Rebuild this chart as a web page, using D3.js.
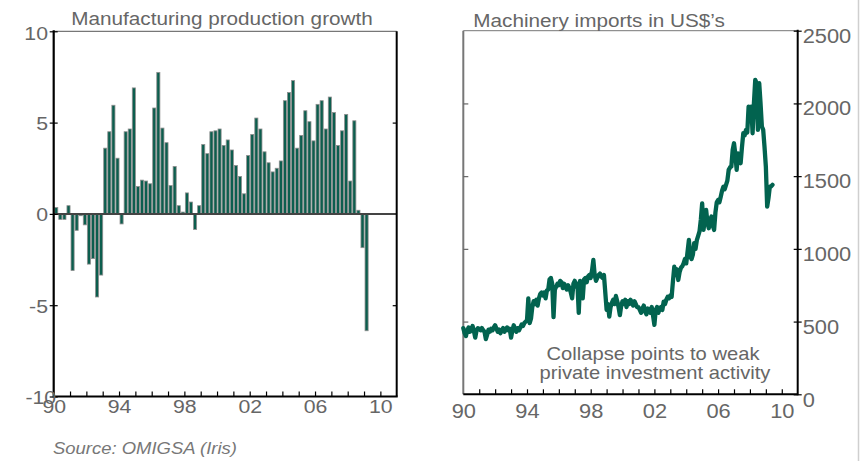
<!DOCTYPE html>
<html><head><meta charset="utf-8">
<script src="https://cdn.jsdelivr.net/npm/d3@7"></script>
<style>
body{margin:0;background:#fff}
svg{display:block}
text{font-family:"Liberation Sans",Arial,sans-serif;fill:#666}
</style>
</head><body>
<svg id="c" width="864" height="461"></svg>
<script>
// ---------- DATA ----------
const growthStart = 1990; // quarterly, % y/y
const growth = [
  0.35,-0.3,-0.3,0.45,   -3.1,-0.9,-0.1,-0.6,   -2.75,-2.45,-4.55,-3.35,
  3.6,4.5,5.95,3.05,     -0.55,4.5,4.65,6.9,    1.5,1.85,1.8,1.65,
  5.8,7.75,4.7,3.9,      1.55,2.6,0.45,0.1,     1.15,0.65,-0.85,0.45,
  3.8,3.3,4.5,4.55,      4.65,3.75,4.05,3.5,    2.65,2.05,1.1,3.2,
  4.35,5.25,4.65,3.4,    2.8,2.3,2.5,2.9,       6.2,6.65,7.3,3.6,
  4.3,5.65,5.05,4.0,     6.0,6.2,4.65,6.4,      5.55,3.75,4.55,5.45,
  1.8,5.1,0.2,-1.85,     -6.4
];
const importsStart = 1990; // monthly, US$ m
const imports = [
  455,420,400,440,460,430,445,470,435,390,440,455,          // 1990
  450,440,455,440,430,380,410,445,430,450,440,460,          // 1991
  475,450,430,445,420,440,455,430,445,460,440,450,          // 1992
  390,440,475,450,430,455,440,460,480,470,490,500,          // 1993
  510,660,490,520,600,640,620,650,610,660,690,700,          // 1994
  680,700,660,715,720,790,800,760,530,720,740,760,          // 1995
  750,780,770,730,760,740,720,750,730,700,660,760,          // 1996
  780,740,760,560,780,760,660,790,800,770,810,820,          // 1997
  800,850,924,820,780,800,820,830,810,800,820,700,          // 1998
  580,620,534,600,630,650,620,676,640,600,544,610,          // 1999
  640,620,650,600,640,620,650,630,610,640,620,600,          // 2000
  600,580,560,590,610,570,550,590,580,560,600,540,          // 2001
  477,580,600,560,590,600,580,637,620,650,670,660,          // 2002
  680,670,780,877,820,860,786,840,870,880,900,930,          // 2003
  900,980,1061,950,930,960,1040,1000,1060,1090,1120,1200,   // 2004
  1313,1130,1200,1268,1180,1142,1200,1222,1160,1130,1250,1320, // 2005
  1336,1320,1359,1400,1428,1410,1440,1470,1543,1560,1566,1680, // 2006
  1726,1650,1543,1657,1620,1589,1700,1795,1780,1818,1800,1978, // 2007
  1960,1978,1795,2000,2162,2140,1818,2139,2001,1841,1818,1700, // 2008
  1566,1290,1350,1428,1430,1440                               // 2009
];
const yearTicks = d3.range(1991, 2011);
const yearLabels = [1990, 1994, 1998, 2002, 2006, 2010];
const growthTicks = [-10, -5, 0, 5, 10];
const importTicks = [0, 500, 1000, 1500, 2000, 2500];
const leftTitle = "Manufacturing production growth";
const rightTitle = "Machinery imports in US$\u2019s";
const note = ["Collapse points to weak", "private investment activity"];
const source = "Source: OMIGSA (Iris)";

// ---------- DRAW ----------
const svg = d3.select("#c");
const SX = 1.12;
const ink = "#0c5e4e";
const lineInk = "#02634f";
const fmtYr = d => String(d).slice(2);
const fmtNum = d => String(d);

function txt(g, x, y, s, anchor, size, extra) {
  const t = g.append("text")
    .attr("transform", `translate(${x},${y}) scale(${SX},1)`)
    .attr("text-anchor", anchor).attr("font-size", size).text(s);
  if (extra) extra(t);
  return t;
}
function seg(g, x1, y1, x2, y2, col, w) {
  g.append("line").attr("x1", x1).attr("y1", y1).attr("x2", x2).attr("y2", y2)
    .attr("stroke", col).attr("stroke-width", w);
}

// ===== LEFT PANEL =====
const xL = d3.scaleLinear([1990, 2011], [53.7, 396.7]);
const yL = d3.scaleLinear([-10, 10], [396.5, 31.3]);
const L = svg.append("g");

L.selectAll("rect.bar").data(growth).join("rect").attr("class", "bar")
  .attr("x", (d, i) => xL(growthStart + i / 4) + 1)
  .attr("width", 3.1)
  .attr("y", d => yL(Math.max(0, d)))
  .attr("height", d => Math.abs(yL(d) - yL(0)))
  .attr("fill", ink).attr("stroke", "#8f8f8f").attr("stroke-width", 0.8);

// zero line
seg(L, xL(1990), yL(0), xL(2011), yL(0), "#444", 2);

// frame
seg(L, xL(1990), yL(10), xL(2011), yL(10), "#555", 1);
seg(L, xL(2011), yL(10), xL(2011), yL(-10), "#000", 2);
seg(L, xL(1990), yL(-10), xL(2011) + 1, yL(-10), "#000", 2);
seg(L, xL(1990), yL(10) - 1, xL(1990), yL(-10) + 1, "#000", 2.2);

// bottom ticks (inward)
L.append("g").attr("transform", `translate(0,${yL(-10)})`)
  .call(d3.axisBottom(xL).tickValues(yearTicks).tickSize(-5).tickFormat(""))
  .call(g => { g.select(".domain").remove(); g.selectAll("line").attr("stroke", "#000").attr("stroke-width", 1.2); });
// bottom labels
L.append("g").attr("transform", `translate(0,${yL(-10)})`)
  .call(d3.axisBottom(xL).tickValues(yearLabels).tickSize(0).tickFormat(fmtYr))
  .call(g => {
    g.select(".domain").remove();
    g.selectAll("text").attr("y", 0).attr("dy", 0).attr("font-size", 19)
      .attr("transform", `translate(0,16.5) scale(${SX},1)`);
  });
// left ticks + labels
L.append("g").attr("transform", `translate(${xL(1990)},0)`)
  .call(d3.axisLeft(yL).tickValues(growthTicks).tickSize(4).tickFormat(fmtNum))
  .call(g => {
    g.select(".domain").remove();
    g.selectAll("line").attr("x1", 4).attr("stroke", "#000").attr("stroke-width", 1.2);
    g.selectAll("text").attr("dy", 0).attr("font-size", 19)
      .attr("x", d => d === -10 ? 2.5 / SX : -5.7 / SX)
      .attr("y", d => d === 10 ? 8 : d === -10 ? 6.5 : 7)
      .attr("transform", `scale(${SX},1)`);
  });
// right ticks (inward)
L.append("g").attr("transform", `translate(${xL(2011)},0)`)
  .call(d3.axisRight(yL).tickValues([-5, 5]).tickSize(-4).tickFormat(""))
  .call(g => { g.select(".domain").remove(); g.selectAll("line").attr("stroke", "#000").attr("stroke-width", 1.2); });

txt(L, 222, 25, leftTitle, "middle", 18.5);
txt(L, 53, 454, source, "start", 16.5, t => t.attr("font-style", "italic").style("fill", "#777"));

// ===== RIGHT PANEL =====
const xR = d3.scaleLinear([1990, 2011], [463.3, 797.7]);
const yR = d3.scaleLinear([0, 2500], [394.3, 30.7]);
const R = svg.append("g");

// frame
seg(R, xR(1990), yR(2500), xR(2011), yR(2500), "#777", 1);
seg(R, xR(1990), yR(2500), xR(1990), yR(0), "#777", 2);
seg(R, xR(2011), yR(2500) - 1, xR(2011), yR(0) + 1, "#000", 2);
seg(R, xR(1990), yR(0), xR(2011), yR(0), "#000", 2);

// left inner ticks
R.append("g").attr("transform", `translate(${xR(1990)},0)`)
  .call(d3.axisRight(yR).tickValues([500, 1000, 1500, 2000]).tickSize(5).tickFormat(""))
  .call(g => { g.select(".domain").remove(); g.selectAll("line").attr("stroke", "#666").attr("stroke-width", 1.2); });
// right ticks + labels
R.append("g").attr("transform", `translate(${xR(2011)},0)`)
  .call(d3.axisRight(yR).tickValues(importTicks).tickSize(4).tickFormat(fmtNum))
  .call(g => {
    g.select(".domain").remove();
    g.selectAll("line").attr("x1", -4).attr("stroke", "#000").attr("stroke-width", 1.2);
    g.selectAll("text").attr("dy", 0).attr("font-size", 19.5)
      .attr("x", 5 / SX).attr("y", d => d === 0 ? 12 : 11.5)
      .attr("transform", `scale(${SX},1)`);
  });
// bottom ticks
R.append("g").attr("transform", `translate(0,${yR(0)})`)
  .call(d3.axisBottom(xR).tickValues(yearTicks).tickSize(-5).tickFormat(""))
  .call(g => { g.select(".domain").remove(); g.selectAll("line").attr("stroke", "#000").attr("stroke-width", 1.2); });
R.append("g").attr("transform", `translate(0,${yR(0)})`)
  .call(d3.axisBottom(xR).tickValues(yearLabels).tickSize(0).tickFormat(fmtYr))
  .call(g => {
    g.select(".domain").remove();
    g.selectAll("text").attr("y", 0).attr("dy", 0).attr("font-size", 19.5)
      .attr("transform", `translate(0,23.7) scale(${SX},1)`);
  });

// line
const line = d3.line().x((d, i) => xR(importsStart + i / 12)).y(d => yR(d));
R.append("path").datum(imports).attr("d", line)
  .attr("fill", "none").attr("stroke", lineInk).attr("stroke-width", 4.3)
  .attr("stroke-linejoin", "round").attr("stroke-linecap", "round");

txt(R, 473.3, 26.5, rightTitle, "start", 18.5);
txt(R, 653, 360, note[0], "middle", 18);
txt(R, 655, 378.5, note[1], "middle", 18);

// page edge
seg(svg, 858.5, 0, 858.5, 461, "#cfcfcf", 1.5);
</script>
</body></html>
